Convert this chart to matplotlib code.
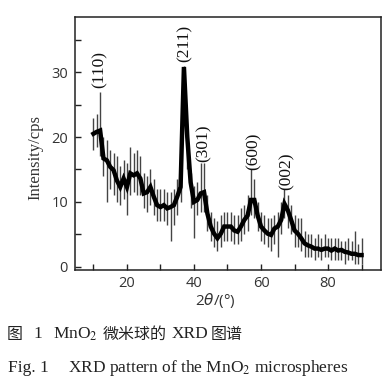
import matplotlib
matplotlib.use("Agg")
import matplotlib.pyplot as plt
import numpy as np
from matplotlib.ticker import MultipleLocator

# ---- data (1 degree steps) ----
two_theta = list(range(10, 91))
intensity = [20.5, 20.8, 21.0, 16.7, 16.4, 15.4, 14.9, 13.3, 12.3, 13.6,
             12.3, 14.4, 14.1, 14.4, 13.6, 11.3, 11.5, 12.3, 10.8, 9.5,
             9.2, 9.5, 9.0, 9.2, 9.5, 10.8, 12.3, 30.8, 20.0, 13.0,
             10.0, 10.3, 11.3, 11.5, 8.2, 6.2, 5.1, 4.4, 5.1, 6.2,
             6.2, 6.2, 5.6, 5.4, 6.2, 7.2, 7.9, 10.3, 10.3, 7.9,
             6.2, 5.6, 5.1, 4.9, 5.9, 6.2, 7.2, 9.7, 8.7, 7.2,
             5.6, 5.1, 4.4, 3.6, 3.3, 3.1, 2.8, 2.8, 2.6, 2.8,
             2.8, 2.5, 2.8, 2.5, 2.6, 2.3, 2.2, 2.0, 2.0, 1.8, 1.8]
noise_hi = [23, 23.5, 27, 20, 19.5, 18, 17.5, 17, 15.5, 16.5,
            16, 18.5, 17.5, 18, 17, 14.5, 14, 15, 13.5, 12,
            12, 12, 11.5, 11.5, 12, 13.5, 15, 31, 22, 14.5,
            12.5, 13, 16, 16, 11, 8.5, 7.5, 7, 8, 8.5,
            8.5, 8.5, 8, 8, 9, 9.5, 11, 15, 13.5, 10,
            8.5, 8, 7.5, 7.5, 8, 8.5, 10, 12, 11, 9.5,
            8, 7.5, 7.5, 5.5, 5, 5, 4.5, 5, 4.5, 5,
            4.5, 4.5, 4.5, 4.5, 4, 4, 4.5, 4, 5.5, 3.5, 4.5]
noise_lo = [18, 18.5, 17, 14, 10, 12, 11, 10, 9.5, 10.5,
            8, 11, 11.5, 11, 11, 9, 8.5, 9.5, 8, 7,
            7, 7, 6.5, 4, 6.5, 8, 10, 25, 15, 9,
            4.5, 8, 8.5, 8.5, 5.5, 4, 3, 2.5, 3, 4,
            4, 4, 3.5, 3.5, 4, 5, 5.5, 8, 7.5, 5.5,
            4, 3.5, 3, 2.5, 3.5, 1.5, 5, 7.5, 6, 5,
            3, 3, 2.5, 1.5, 1.5, 1.5, 1, 1.5, 1, 1.5,
            1.5, 1, 1, 1, 1, 0.5, 1, 1, 0.5, 0.5, 0.5]

peak_labels = ["(110)", "(211)", "(301)", "(600)", "(002)"]
peak_pos = [11.9, 37.1, 42.8, 57.9, 67.7]
peak_label_base = [27.5, 31.5, 16.2, 14.9, 11.8]

x_ticks = [20, 40, 60, 80]
y_ticks = [0, 10, 20, 30]

W, H = 390, 384
fig = plt.figure(figsize=(W / 100, H / 100), dpi=100)
ax = fig.add_axes([75 / W, 1 - 270 / H, 306 / W, 253 / H])

ax.vlines(two_theta, noise_lo, noise_hi, color="#444444", lw=1.0, zorder=2)
ax.plot(two_theta, intensity, color="black", lw=3.2, solid_joinstyle="miter", zorder=3)

for lab, px, py in zip(peak_labels, peak_pos, peak_label_base):
    ax.text(px, py, lab, rotation=90, ha="center", va="bottom",
            fontsize=12.5, family="Liberation Serif", color="#111111")

ax.set_xlim(4.5, 95.8)
ax.set_ylim(-0.5, 38.5)
ax.set_xticks(x_ticks)
ax.set_yticks(y_ticks)
ax.xaxis.set_minor_locator(MultipleLocator(10))
ax.yaxis.set_minor_locator(MultipleLocator(5))
ax.tick_params(which="both", direction="in", length=4, width=1, color="#222222")
ax.tick_params(axis="x", pad=4)
ax.tick_params(axis="y", pad=5)
for lbl in ax.get_xticklabels() + ax.get_yticklabels():
    lbl.set_fontfamily("Open Sans")
    lbl.set_fontsize(10.5)
    lbl.set_color("#333333")
for s in ax.spines.values():
    s.set_linewidth(1.1)
    s.set_color("#222222")

fig.text(35 / W, 1 - 158 / H, "Intensity/cps", rotation=90, ha="center", va="center",
         fontsize=12, family="Liberation Serif", color="#333333")
fig.text(215 / W, 1 - 301 / H, r"2$\theta$/(°)", ha="center", va="center",
         fontsize=11, family="Open Sans", math_fontfamily="dejavusans", color="#333333")

# caption
cjk = ["Noto Sans CJK SC", "DejaVu Sans"]
ser = "Liberation Serif"
y1 = 1 - 334 / H
y2 = 1 - 368 / H
fig.text(7 / W, y1, "图", family=cjk, fontsize=11.5, va="center", ha="left", color="#222222")
fig.text(33 / W, y1, "1", family=ser, fontsize=12.5, va="center", ha="left", color="#222222")
fig.text(53 / W, y1, r"MnO$_2$", family=ser, math_fontfamily="stix", fontsize=12.5,
         va="center", ha="left", color="#222222")
fig.text(103 / W, y1, "微米球的", family=cjk, fontsize=11.5, va="center", ha="left", color="#222222")
fig.text(172 / W, y1, "XRD", family=ser, fontsize=12.5, va="center", ha="left", color="#222222")
fig.text(211 / W, y1, "图谱", family=cjk, fontsize=11.5, va="center", ha="left", color="#222222")

fig.text(8 / W, y2, "Fig. 1", family=ser, fontsize=12.5, va="center", ha="left", color="#222222")
fig.text(68 / W, y2, r"XRD pattern of the MnO$_2$ microspheres", family=ser,
         math_fontfamily="stix", fontsize=12.5, va="center", ha="left", color="#222222")

fig.savefig("out.png", dpi=100)
